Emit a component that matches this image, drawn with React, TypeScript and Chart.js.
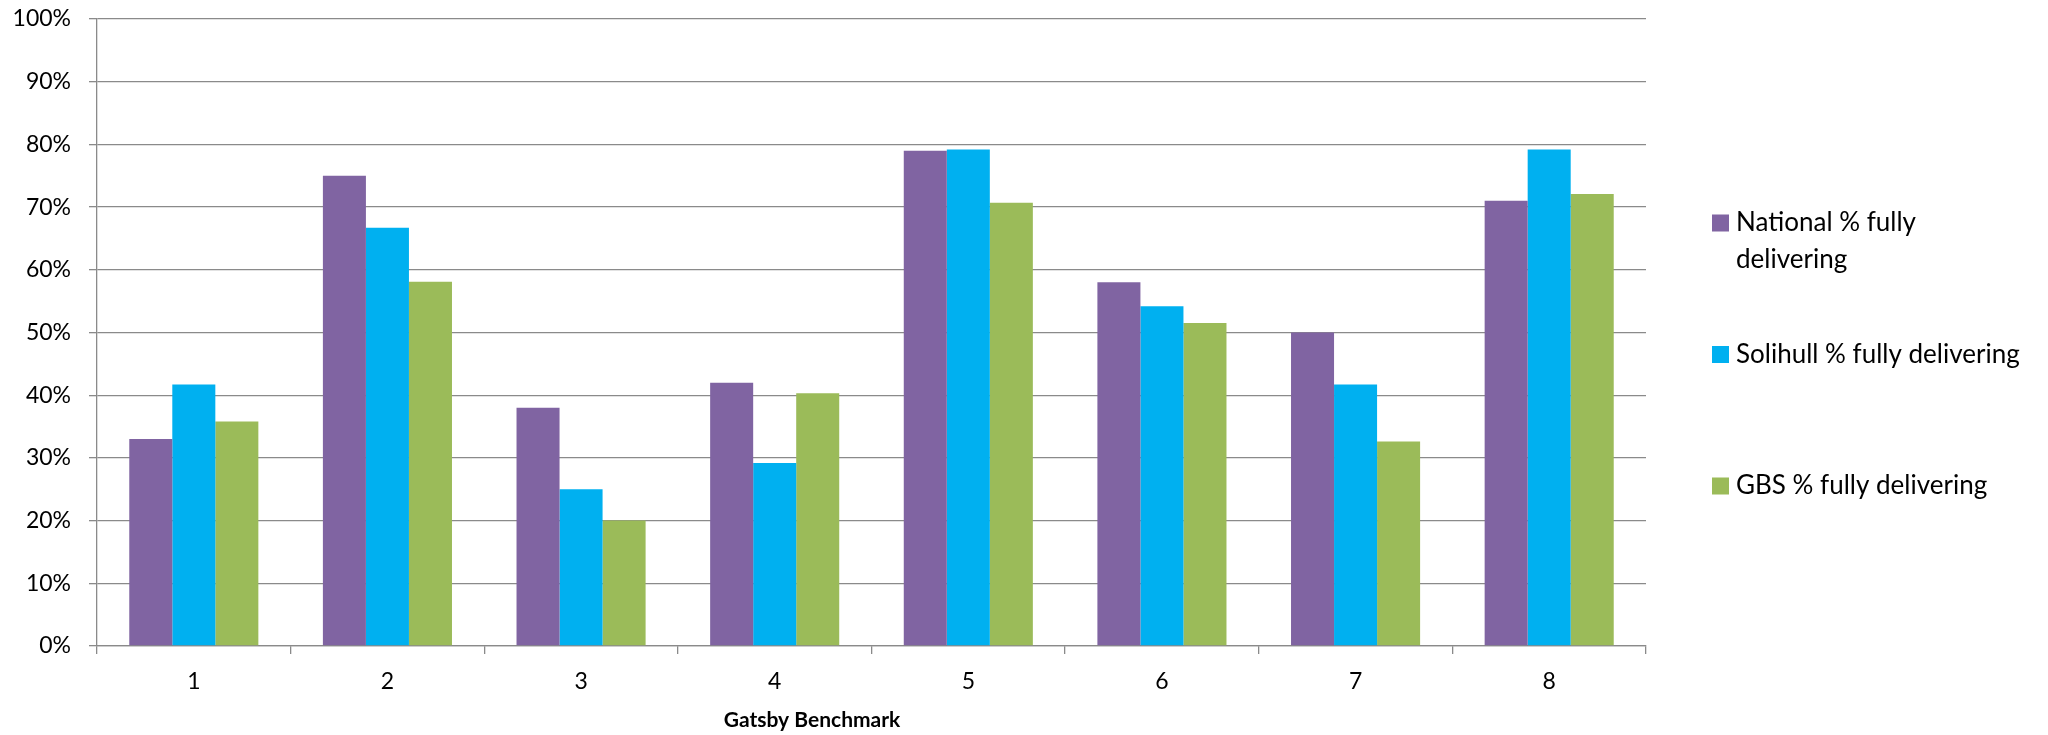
import { useEffect, useRef } from 'react';
import { Chart, registerables } from 'chart.js';

Chart.register(...registerables);

// Gatsby benchmark categories and the share (%) of providers fully delivering each one
const benchmarks = ['1', '2', '3', '4', '5', '6', '7', '8'];
const nationalPct = [33, 75, 38, 42, 79, 58, 50, 71];
const solihullPct = [41.7, 66.7, 25, 29.2, 79.2, 54.2, 41.7, 79.2];
const gbsPct = [35.8, 58.1, 20, 40.3, 70.7, 51.5, 32.6, 72.1];

const seriesNames = [
  'National % fully delivering',
  'Solihull % fully delivering',
  'GBS % fully delivering',
];
const seriesColors = ['#8064A2', '#00B0F0', '#9BBB59'];
const xAxisTitle = 'Gatsby Benchmark';

const FONT = 'Lato, "Open Sans", sans-serif';
const AXIS_GREY = '#8a8a8a';

// word-wrap a legend label to a maximum width
function wrapText(ctx: CanvasRenderingContext2D, text: string, maxWidth: number): string[] {
  const words = text.split(' ');
  const lines: string[] = [];
  let line = '';
  for (const w of words) {
    const test = line ? line + ' ' + w : w;
    if (ctx.measureText(test).width > maxWidth && line) {
      lines.push(line);
      line = w;
    } else {
      line = test;
    }
  }
  if (line) lines.push(line);
  return lines;
}

// legend to the right of the plot, plus the category-axis title
const sideLegend = {
  id: 'sideLegend',
  afterDraw(chart: any) {
    const ctx: CanvasRenderingContext2D = chart.ctx;
    const boxX = 1712;
    const textX = 1736;
    const firstY = 223;
    const step = 131.5;
    const lineGap = 37;
    const box = 17;
    ctx.save();
    ctx.font = `26px ${FONT}`;
    ctx.textBaseline = 'middle';
    ctx.textAlign = 'left';
    chart.data.datasets.forEach((ds: any, i: number) => {
      const y = firstY + i * step;
      ctx.fillStyle = ds.backgroundColor;
      ctx.fillRect(boxX, y - box / 2, box, box);
      ctx.fillStyle = '#000';
      const lines = wrapText(ctx, ds.label, 292);
      lines.forEach((ln, j) => ctx.fillText(ln, textX, y + j * lineGap));
    });

    // axis title
    ctx.font = `bold 21px ${FONT}`;
    ctx.textAlign = 'center';
    ctx.fillText(xAxisTitle, 812, 720);
    ctx.restore();
  },
};

export default function App() {
  const canvasRef = useRef<HTMLCanvasElement | null>(null);

  useEffect(() => {
    if (!canvasRef.current) return;
    const seriesValues = [nationalPct, solihullPct, gbsPct];
    const chart = new Chart(canvasRef.current, {
      type: 'bar',
      data: {
        labels: benchmarks,
        datasets: seriesValues.map((vals, i) => ({
          label: seriesNames[i],
          data: vals,
          backgroundColor: seriesColors[i],
          borderWidth: 0,
          categoryPercentage: 2 / 3,
          barPercentage: 1,
        })),
      },
      options: {
        responsive: false,
        animation: false,
        devicePixelRatio: 1,
        layout: { padding: { top: 0, right: 402, bottom: 0, left: 0 } },
        plugins: {
          legend: { display: false },
          tooltip: { enabled: false },
        },
        scales: {
          x: {
            grid: {
              drawOnChartArea: false,
              drawTicks: true,
              tickLength: 8,
              color: AXIS_GREY,
              lineWidth: 1.3,
            },
            border: { color: AXIS_GREY, width: 1.3 },
            ticks: {
              color: '#000',
              font: { family: FONT, size: 23 },
              padding: 14,
            },
            afterFit(scale: any) {
              scale.height = 89;
            },
          },
          y: {
            min: 0,
            max: 100,
            ticks: {
              stepSize: 10,
              color: '#000',
              font: { family: FONT, size: 23 },
              padding: 18,
              callback: (v: any) => `${v}%`,
            },
            grid: {
              color: AXIS_GREY,
              lineWidth: 1.3,
              tickLength: 8,
            },
            border: { color: AXIS_GREY, width: 1.3 },
            afterFit(scale: any) {
              scale.width = 97;
              scale.paddingTop = 19;
            },
          },
        },
      },
      plugins: [sideLegend],
    });
    return () => chart.destroy();
  }, []);

  return (
    <div style={{ position: 'absolute', left: 0, top: 0, width: 2048, height: 735, background: '#fff' }}>
      <canvas ref={canvasRef} width={2048} height={735} />
    </div>
  );
}
